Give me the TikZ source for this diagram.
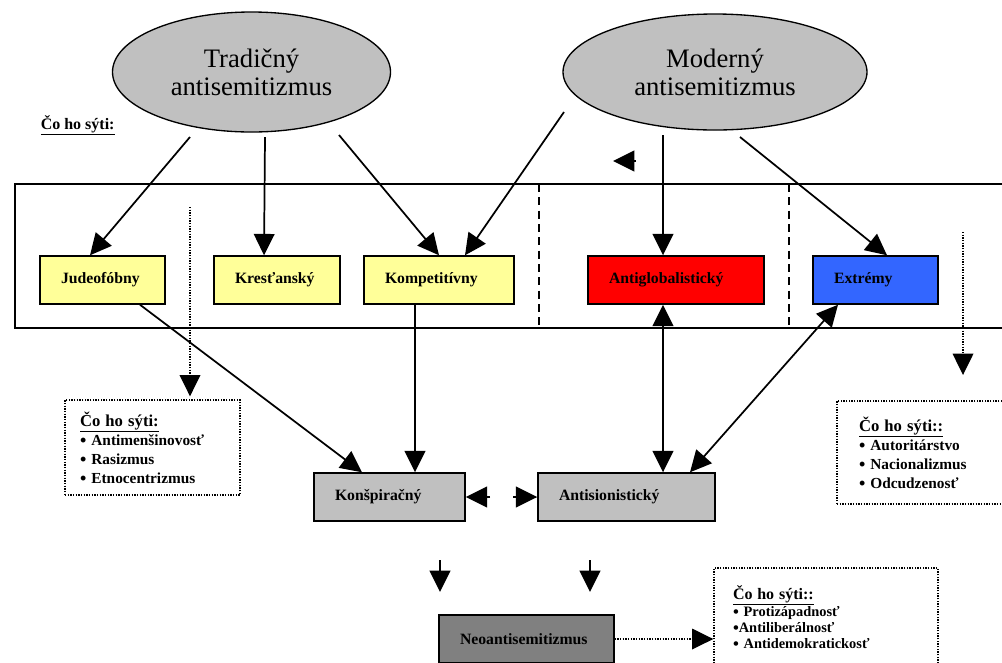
\documentclass[tikz,border=0pt]{standalone}
\usepackage{fontspec}
\setmainfont{Liberation Serif}
\usetikzlibrary{arrows.meta,shapes.geometric,calc}
\definecolor{boxyellow}{HTML}{FFFF99}
\definecolor{boxred}{HTML}{FF0000}
\definecolor{boxblue}{HTML}{3366FF}
\definecolor{shadelight}{HTML}{C0C0C0}
\definecolor{shadedark}{HTML}{808080}
\newcommand\mybul{\smash{\raisebox{-1pt}{\fontsize{13.5}{13.5}\selectfont •}}}
\newcommand\mybulsm{\smash{\raisebox{-0.8pt}{\fontsize{12.5}{12.5}\selectfont •}}}
\begin{document}
\begin{tikzpicture}[x=0.75pt,y=-0.75pt,
  headtip/.tip={Triangle[length=16pt,width=15.5pt]},
  arr/.style={line width=1.3pt,-headtip},
  darr/.style={line width=1.3pt,headtip-headtip},
  dotarr/.style={line width=1pt,dash pattern=on 1pt off 1pt,-headtip},
  oval/.style={ellipse,draw,line width=1pt,fill=shadelight,inner sep=0pt,align=center,font=\fontsize{20}{21}\selectfont},
  catbox/.style={draw,line width=1.1pt,align=left,inner xsep=15.75pt,inner ysep=0pt,minimum height=36pt,font=\bfseries\fontsize{11.8}{14}\selectfont},
  dbox/.style={draw,line width=1pt,dash pattern=on 1pt off 1pt,align=left,inner ysep=0pt,font=\bfseries\fontsize{11.5}{14.25}\selectfont},
  sepline/.style={line width=1.1pt,dash pattern=on 6pt off 4pt}]
\clip (0,0) rectangle (1002,662);
\fill[white] (0,0) rectangle (1002,662);

% ellipses
\node[oval,minimum width=208.5pt,minimum height=90pt] (trad) at (251.5,72) {Tradičný\\antisemitizmus};
\node[oval,minimum width=228pt,minimum height=87pt] (mod) at (715,72) {Moderný\\antisemitizmus};

% heading
\node[anchor=base west,inner sep=0pt,font=\bfseries\fontsize{12}{14}\selectfont] (hd) at (40.5,129) {\underline{Čo ho sýti:}};

% frame
\draw[line width=1.1pt] (15,184) rectangle (1012,328);
\draw[sepline] (539,184) -- (539,328);
\draw[sepline] (789,184) -- (789,328);

% category boxes
\node[catbox,fill=boxyellow,text width=62.25pt] (jud) at (102.5,280) {Judeofóbny};
\node[catbox,fill=boxyellow,text width=63pt] (kres) at (277,280) {Kresťanský};
\node[catbox,fill=boxyellow,text width=81pt] (komp) at (439,280) {Kompetitívny};
\node[catbox,fill=boxred,text width=100.5pt] (ag) at (676,280) {Antiglobalistický};
\node[catbox,fill=boxblue,text width=62.25pt] (ext) at (875.5,280) {Extrémy};
\node[catbox,fill=shadelight,text width=81.75pt] (kons) at (389.5,497) {Konšpiračný};
\node[catbox,fill=shadelight,text width=101.25pt] (antis) at (626.5,497) {Antisionistický};
\node[catbox,fill=shadedark,text width=99.75pt] (neo) at (526.5,639) {Neoantisemitizmus};

% dotted boxes
\node[dbox,text width=108.75pt,inner xsep=11.25pt,minimum height=71.25pt] (d1) at (152.5,447.5)
  {{\fontsize{12.5}{14}\selectfont\underline{Čo ho sýti:}}\\ \mybul{} Antimenšinovosť\\ \mybul{} Rasizmus\\ \mybul{} Etnocentrizmus};
\node[dbox,text width=98.25pt,inner xsep=16.5pt,minimum height=77.25pt] (d2) at (924.5,452.5)
  {{\fontsize{12.5}{14}\selectfont\underline{Čo ho sýti::}}\\ \mybul{} Autoritárstvo\\ \mybul{} Nacionalizmus\\ \mybul{} Odcudzenosť};
\node[dbox,text width=139.5pt,inner xsep=14.25pt,minimum height=73.5pt,font=\bfseries\fontsize{10.8}{12}\selectfont] (d3) at (826,617)
  {{\fontsize{12}{12}\selectfont\underline{Čo ho sýti::}}\\ \mybulsm{} Protizápadnosť\\ \mybulsm{}Antiliberálnosť\\ \mybulsm{} Antidemokratickosť};

% arrows from ellipses
\coordinate (t1) at (190,137);
\coordinate (t2) at (265,137);
\coordinate (t3) at (339,135);
\coordinate (m1) at (564,112);
\coordinate (m2) at (663,135);
\coordinate (m3) at (740,137);
\draw[arr] (t1) -- (jud.north -| 90,0);
\draw[arr] (t2) -- (kres.north -| 264,0);
\draw[arr] (t3) -- (komp.north -| 439,0);
\draw[arr] (m1) -- (komp.north -| 465,0);
\draw[arr] (m2) -- (ag.north -| 663,0);
\draw[arr] (m3) -- (ext.north -| 887,0);

% arrows to lower boxes
\draw[arr] (jud.south -| 140,0) -- (kons.north -| 362,0);
\draw[arr] (komp.south -| 415,0) -- (kons.north -| 415,0);
\draw[darr] (ag.south -| 663,0) -- (antis.north -| 663,0);
\draw[darr] (ext.south -| 838,0) -- (antis.north -| 690,0);

% broken double arrow between lower boxes
\coordinate (k1) at (490,497);
\coordinate (a1) at (513,497);
\draw[arr] (k1) -- (kons.east);
\draw[arr] (a1) -- (antis.west);

% loose arrowheads
\coordinate (n1) at (440,560);
\coordinate (n1e) at (440,592);
\coordinate (n2) at (590,560);
\coordinate (n2e) at (590,592);
\draw[arr] (n1) -- (n1e);
\draw[arr] (n2) -- (n2e);
\coordinate (f1) at (636,161);
\coordinate (f1e) at (613,161);
\draw[arr] (f1) -- (f1e);

% dotted arrows
\coordinate (v1) at (190,207);
\draw[dotarr] (v1) -- ($(d1.north -| 190,0)+(0,-3)$);
\coordinate (v2) at (963,232);
\coordinate (v2e) at (963,375);
\draw[dotarr] (v2) -- (v2e);
\draw[dotarr] (neo.east) -- (neo.east -| d3.west);
\end{tikzpicture}
\end{document}
